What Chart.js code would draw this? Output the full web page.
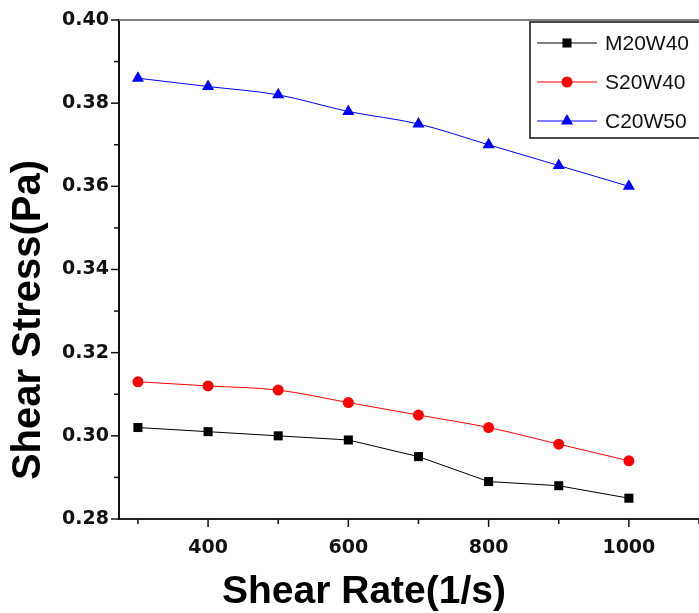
<!DOCTYPE html>
<html>
<head>
<meta charset="UTF-8">
<title>Shear Stress vs Shear Rate</title>
<script src="https://cdn.jsdelivr.net/npm/chart.js"></script>
<style>
    body { margin: 0; background: #fff; }
    .wrap { width: 699px; height: 613px; position: relative; }
</style>
</head>
<body>
<div class="wrap"><canvas id="chart"></canvas></div>
<script>
    // data
    const shearRate = [300, 400, 500, 600, 700, 800, 900, 1000];
    const m20w40 = [0.302, 0.301, 0.300, 0.299, 0.295, 0.289, 0.288, 0.285];
    const s20w40 = [0.313, 0.312, 0.311, 0.308, 0.305, 0.302, 0.298, 0.294];
    const c20w50 = [0.386, 0.384, 0.382, 0.378, 0.375, 0.370, 0.365, 0.360];

    const xTicks = [300, 400, 500, 600, 700, 800, 900, 1000, 1100];
    const xLabels = [400, 600, 800, 1000];
    const yTicks = [0.28, 0.29, 0.30, 0.31, 0.32, 0.33, 0.34, 0.35, 0.36, 0.37, 0.38, 0.39, 0.40];
    const yLabels = [0.28, 0.30, 0.32, 0.34, 0.36, 0.38, 0.40];
    const xTitle = 'Shear Rate(1/s)';
    const yTitle = 'Shear Stress(Pa)';

    const TITLE_FONT = '"Liberation Sans", Arial, sans-serif';
    const TICK_FONT = '"DejaVu Sans", sans-serif';

    const isLabel = (list, v) => list.some(l => Math.abs(l - v) < 1e-6);

    function pairs(ys) {
        return shearRate.map((x, i) => ({ x: x, y: ys[i] }));
    }

    // top frame, tick marks (long for labelled, short for others), axis titles
    const frame = {
        id: 'frame',
        afterDraw(chart) {
            const ctx = chart.ctx;
            const a = chart.chartArea;
            const xs = chart.scales.x, ys = chart.scales.y;
            ctx.save();
            ctx.strokeStyle = '#808080';
            ctx.lineWidth = 2;
            ctx.beginPath();
            ctx.moveTo(a.left, a.top);
            ctx.lineTo(chart.width, a.top);
            ctx.stroke();

            ctx.strokeStyle = '#111';
            ctx.lineWidth = 1.5;
            xs.ticks.forEach(t => {
                const px = xs.getPixelForValue(t.value);
                const len = isLabel(xLabels, t.value) ? 8 : 5;
                ctx.beginPath();
                ctx.moveTo(px, a.bottom);
                ctx.lineTo(px, a.bottom + len);
                ctx.stroke();
            });
            ys.ticks.forEach(t => {
                const py = ys.getPixelForValue(t.value);
                const len = isLabel(yLabels, t.value) ? 8 : 5;
                ctx.beginPath();
                ctx.moveTo(a.left, py);
                ctx.lineTo(a.left - len, py);
                ctx.stroke();
            });

            // axis titles sit off-centre in the original, so place them by hand
            ctx.fillStyle = '#000';
            ctx.textAlign = 'center';
            ctx.textBaseline = 'middle';
            ctx.font = 'bold 39px ' + TITLE_FONT;
            ctx.fillText(xTitle, 364, 592);
            ctx.translate(29, 320);
            ctx.rotate(-Math.PI / 2);
            ctx.font = 'bold 40px ' + TITLE_FONT;
            ctx.fillText(yTitle, 0, 0);
            ctx.restore();
        }
    };

    // boxed legend in the top right corner
    const boxLegend = {
        id: 'boxLegend',
        afterDraw(chart) {
            const ctx = chart.ctx;
            ctx.save();
            ctx.strokeStyle = '#111';
            ctx.lineWidth = 1.5;
            ctx.strokeRect(530, 22, 200, 116);
            chart.data.datasets.forEach((ds, i) => {
                const y = 43 + i * 39;
                ctx.strokeStyle = ds.borderColor;
                ctx.lineWidth = 1;
                ctx.beginPath();
                ctx.moveTo(537, y);
                ctx.lineTo(597, y);
                ctx.stroke();
                ctx.fillStyle = ds.backgroundColor;
                ctx.strokeStyle = ds.borderColor;
                Chart.helpers.drawPoint(ctx, {
                    pointStyle: ds.pointStyle,
                    radius: ds.pointRadius,
                    rotation: 0,
                    borderWidth: 0
                }, 567, y);
                ctx.fillStyle = '#111';
                ctx.font = '21px ' + TITLE_FONT;
                ctx.textBaseline = 'middle';
                ctx.textAlign = 'left';
                ctx.fillText(ds.label, 605, y + 1);
            });
            ctx.restore();
        }
    };

    new Chart(document.getElementById('chart'), {
        type: 'line',
        data: {
            datasets: [
                {
                    label: 'M20W40',
                    data: pairs(m20w40),
                    borderColor: '#000000',
                    backgroundColor: '#000000',
                    borderWidth: 1,
                    pointStyle: 'rect',
                    pointRadius: 6.4,
                    pointBorderWidth: 0,
                    tension: 0
                },
                {
                    label: 'S20W40',
                    data: pairs(s20w40),
                    borderColor: '#ff0000',
                    backgroundColor: '#ff0000',
                    borderWidth: 1,
                    pointStyle: 'circle',
                    pointRadius: 5.5,
                    pointBorderWidth: 0,
                    cubicInterpolationMode: 'monotone'
                },
                {
                    label: 'C20W50',
                    data: pairs(c20w50),
                    borderColor: '#0000ff',
                    backgroundColor: '#0000ff',
                    borderWidth: 1,
                    pointStyle: 'triangle',
                    pointRadius: 7,
                    pointBorderWidth: 0,
                    cubicInterpolationMode: 'monotone'
                }
            ]
        },
        options: {
            responsive: true,
            maintainAspectRatio: false,
            animation: false,
            layout: { autoPadding: false, padding: { top: 20, left: 0, right: 0, bottom: 0 } },
            plugins: {
                legend: { display: false },
                tooltip: { enabled: false }
            },
            scales: {
                x: {
                    type: 'linear',
                    min: 273,
                    max: 1100,
                    afterBuildTicks: s => { s.ticks = xTicks.map(v => ({ value: v })); },
                    afterFit: s => {
                        s.height = 94;
                        s.paddingLeft = 0;
                        s.paddingRight = 0;
                    },
                    grid: { display: false, drawTicks: false },
                    border: { display: true, color: '#222', width: 2 },
                    ticks: {
                        padding: 18,
                        maxRotation: 0,
                        autoSkip: false,
                        color: '#111',
                        font: { family: TICK_FONT, size: 19, weight: 'bold' },
                        callback: v => isLabel(xLabels, v) ? String(v) : ''
                    }
                },
                y: {
                    type: 'linear',
                    min: 0.28,
                    max: 0.40,
                    afterBuildTicks: s => { s.ticks = yTicks.map(v => ({ value: v })); },
                    afterFit: s => {
                        s.width = 119;
                        s.paddingTop = 0;
                        s.paddingBottom = 0;
                    },
                    grid: { display: false, drawTicks: false },
                    border: { display: true, color: '#111', width: 2 },
                    ticks: {
                        padding: 10,
                        autoSkip: false,
                        color: '#111',
                        font: { family: TICK_FONT, size: 19, weight: 'bold' },
                        callback: v => isLabel(yLabels, v) ? v.toFixed(2) : ''
                    }
                }
            }
        },
        plugins: [frame, boxLegend]
    });
</script>
</body>
</html>
